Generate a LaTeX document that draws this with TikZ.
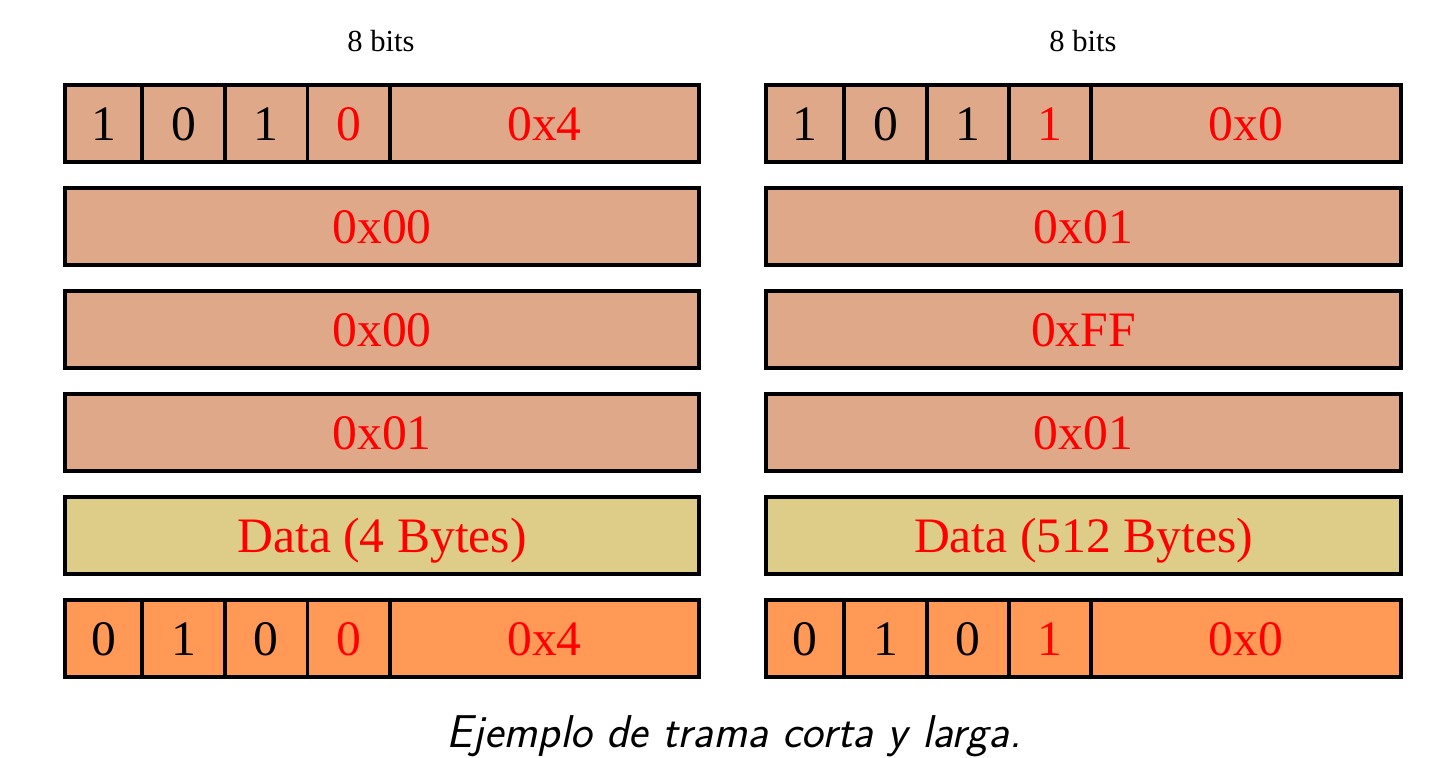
\documentclass[tikz,border=0pt]{standalone}
\usepackage{fontspec}
\newfontfamily\boxfont{Liberation Serif}
\definecolor{salm}{RGB}{223,169,137}
\definecolor{datac}{RGB}{221,205,136}
\definecolor{orng}{RGB}{255,153,85}
\definecolor{redt}{RGB}{255,0,0}
\tikzset{
  cell/.style={draw=black, line width=1.65pt, minimum height=38.5pt, inner sep=0pt,
    font=\boxfont\fontsize{24.8pt}{29pt}\selectfont, text height=16.8pt, text depth=0pt, anchor=center},
  hdr/.style={font=\boxfont\fontsize{15.3pt}{18pt}\selectfont, anchor=base},
  red/.style={text=redt},
}
\begin{document}
\begin{tikzpicture}[x=0.5pt,y=-0.5pt]
\useasboundingbox (0,0) rectangle (1442,758);
% headers
\node[hdr] (hl) at (381,52) {8 bits};
\node[hdr] (hr) at (1083,52) {8 bits};
% ---------- left frame ----------
\node[cell,fill=salm,minimum width=38.5pt] (la1) at (103.5,123.5) {1};
\node[cell,fill=salm,minimum width=41.5pt] (lb1) at (183.5,123.5) {0};
\node[cell,fill=salm,minimum width=41.35pt] (lc1) at (266.35,123.5) {1};
\node[cell,fill=salm,minimum width=41.15pt,red] (ld1) at (348.85,123.5) {0};
\node[cell,fill=salm,minimum width=154.5pt,red] (le1) at (544.5,123.5) {0x4};
\node[cell,fill=salm,minimum width=317pt,red] (l2) at (382,226.5) {0x00};
\node[cell,fill=salm,minimum width=317pt,red] (l3) at (382,329.5) {0x00};
\node[cell,fill=salm,minimum width=317pt,red] (l4) at (382,432.5) {0x01};
\node[cell,fill=datac,minimum width=317pt,red] (l5) at (382,535.5) {Data (4 Bytes)};
\node[cell,fill=orng,minimum width=38.5pt] (la6) at (103.5,638.5) {0};
\node[cell,fill=orng,minimum width=41.5pt] (lb6) at (183.5,638.5) {1};
\node[cell,fill=orng,minimum width=41.35pt] (lc6) at (266.35,638.5) {0};
\node[cell,fill=orng,minimum width=41.15pt,red] (ld6) at (348.85,638.5) {0};
\node[cell,fill=orng,minimum width=154.5pt,red] (le6) at (544.5,638.5) {0x4};
% ---------- right frame ----------
\node[cell,fill=salm,minimum width=39pt] (ra1) at (805,123.5) {1};
\node[cell,fill=salm,minimum width=41.5pt] (rb1) at (885.5,123.5) {0};
\node[cell,fill=salm,minimum width=41pt] (rc1) at (968,123.5) {1};
\node[cell,fill=salm,minimum width=41pt,red] (rd1) at (1050,123.5) {1};
\node[cell,fill=salm,minimum width=155pt,red] (re1) at (1246,123.5) {0x0};
\node[cell,fill=salm,minimum width=317.5pt,red] (r2) at (1083.5,226.5) {0x01};
\node[cell,fill=salm,minimum width=317.5pt,red] (r3) at (1083.5,329.5) {0xFF};
\node[cell,fill=salm,minimum width=317.5pt,red] (r4) at (1083.5,432.5) {0x01};
\node[cell,fill=datac,minimum width=317.5pt,red] (r5) at (1083.5,535.5) {Data (512 Bytes)};
\node[cell,fill=orng,minimum width=39pt] (ra6) at (805,638.5) {0};
\node[cell,fill=orng,minimum width=41.5pt] (rb6) at (885.5,638.5) {1};
\node[cell,fill=orng,minimum width=41pt] (rc6) at (968,638.5) {0};
\node[cell,fill=orng,minimum width=41pt,red] (rd6) at (1050,638.5) {1};
\node[cell,fill=orng,minimum width=155pt,red] (re6) at (1246,638.5) {0x0};
% caption
\node[anchor=base,font=\sffamily\slshape\fontsize{23pt}{27pt}\selectfont] (cap) at (734,748) {Ejemplo de trama corta y larga.};
\end{tikzpicture}
\end{document}
